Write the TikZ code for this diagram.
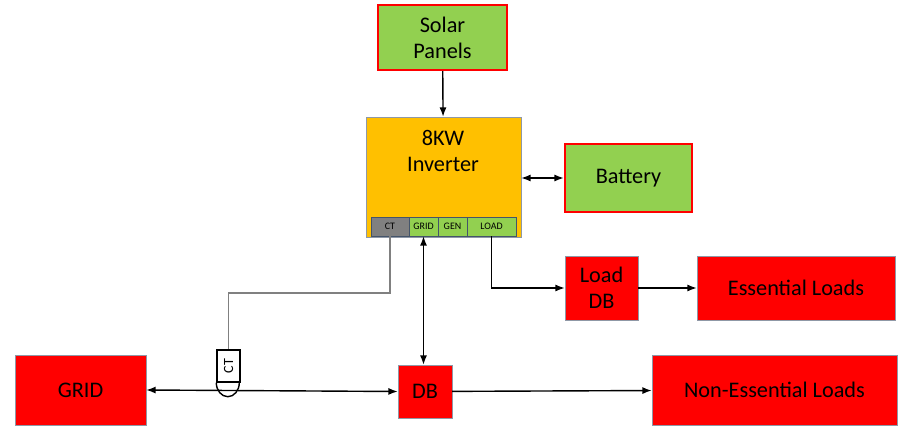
\documentclass[tikz,border=0pt]{standalone}
\usepackage{fontspec}
\setmainfont{Carlito}
\usetikzlibrary{arrows.meta}
\definecolor{panelgreen}{RGB}{146,208,80}
\definecolor{invorange}{RGB}{255,192,0}
\definecolor{boxred}{RGB}{255,0,0}
\definecolor{ctgray}{RGB}{128,128,128}
\definecolor{edgeblue}{RGB}{68,84,106}
\tikzset{
	greenbox/.style={draw=boxred, line width=2pt, fill=panelgreen, align=center, inner sep=0pt, font=\fontsize{19}{22}\selectfont},
	redbox/.style={draw=edgeblue!60, thin, fill=boxred, align=center, inner sep=0pt, font=\fontsize{19}{22}\selectfont},
	slot/.style={draw=edgeblue, thin, fill=panelgreen, inner sep=0pt, font=\fontsize{8.5}{9}\selectfont},
	link/.style={line width=1.2pt, -{Latex[length=8pt,width=6pt]}},
	both/.style={line width=1.2pt, {Latex[length=8pt,width=6pt]}-{Latex[length=8pt,width=6pt]}}
}
\begin{document}
\begin{tikzpicture}[x={(0.03cm,0)}, y={(0,-0.03cm)}]
	\useasboundingbox (0,0) rectangle (903,432);
	% boxes
	\node[greenbox, minimum width=129*0.3mm, minimum height=65*0.3mm] (solar) at (442.5,37.5) {Solar\\Panels};
	\node[draw=edgeblue!60, thin, fill=invorange, minimum width=155*0.3mm, minimum height=120*0.3mm] (inv) at (443.5,177) {};
	\node[font=\fontsize{19}{22}\selectfont, align=center] (invlabel) at (443,151) {8KW\\Inverter};
	\node[greenbox, minimum width=127*0.3mm, minimum height=68*0.3mm] (battery) at (628.5,178) {Battery};
	\node[redbox, minimum width=73*0.3mm, minimum height=64*0.3mm] (loaddb) at (601.5,288) {Load\\DB};
	\node[redbox, minimum width=198*0.3mm, minimum height=64*0.3mm] (essential) at (796,288) {Essential Loads};
	\node[redbox, minimum width=131*0.3mm, minimum height=70*0.3mm] (grid) at (80.5,390) {GRID};
	\node[redbox, minimum width=54*0.3mm, minimum height=53*0.3mm] (db) at (425,391.5) {DB};
	\node[redbox, minimum width=245*0.3mm, minimum height=70*0.3mm] (nonessential) at (774.5,390) {Non-Essential Loads};
	% inverter terminals
	\node[slot, fill=ctgray, minimum width=38*0.3mm, minimum height=19*0.3mm] (ctslot) at (390,226.5) {CT};
	\node[slot, minimum width=29*0.3mm, minimum height=19*0.3mm] (gridslot) at (423.5,226.5) {GRID};
	\node[slot, minimum width=29*0.3mm, minimum height=19*0.3mm] (genslot) at (452.5,226.5) {GEN};
	\node[slot, minimum width=49*0.3mm, minimum height=19*0.3mm] (loadslot) at (491.5,226.5) {LOAD};
	% current transformer
	\node[draw, line width=1.2pt, fill=white, minimum width=23*0.3mm, minimum height=32*0.3mm, inner sep=0pt, font=\fontsize{12}{12}\selectfont] (ct) at (228.5,366) {\rotatebox{90}{CT}};
	\draw[line width=1.2pt] (ct.south west) arc[start angle=180, end angle=360, x radius=11.5, y radius=-14];
	% connectors
	\draw[link] (solar) -- (inv);
	\draw[both] (inv.east |- battery) -- (battery);
	\draw[link] (loadslot.south) |- (loaddb.west);
	\draw[link] (loaddb) -- (essential);
	\draw[both] (gridslot.south) -- (db.north -| gridslot.south);
	\draw[both] (grid.east) -- (db.west);
	\draw[link] (db) -- (nonessential);
	\draw[ctgray, line width=1.2pt] (ctslot.south) |- (228.5,293) -- (ct.north);
\end{tikzpicture}
\end{document}
